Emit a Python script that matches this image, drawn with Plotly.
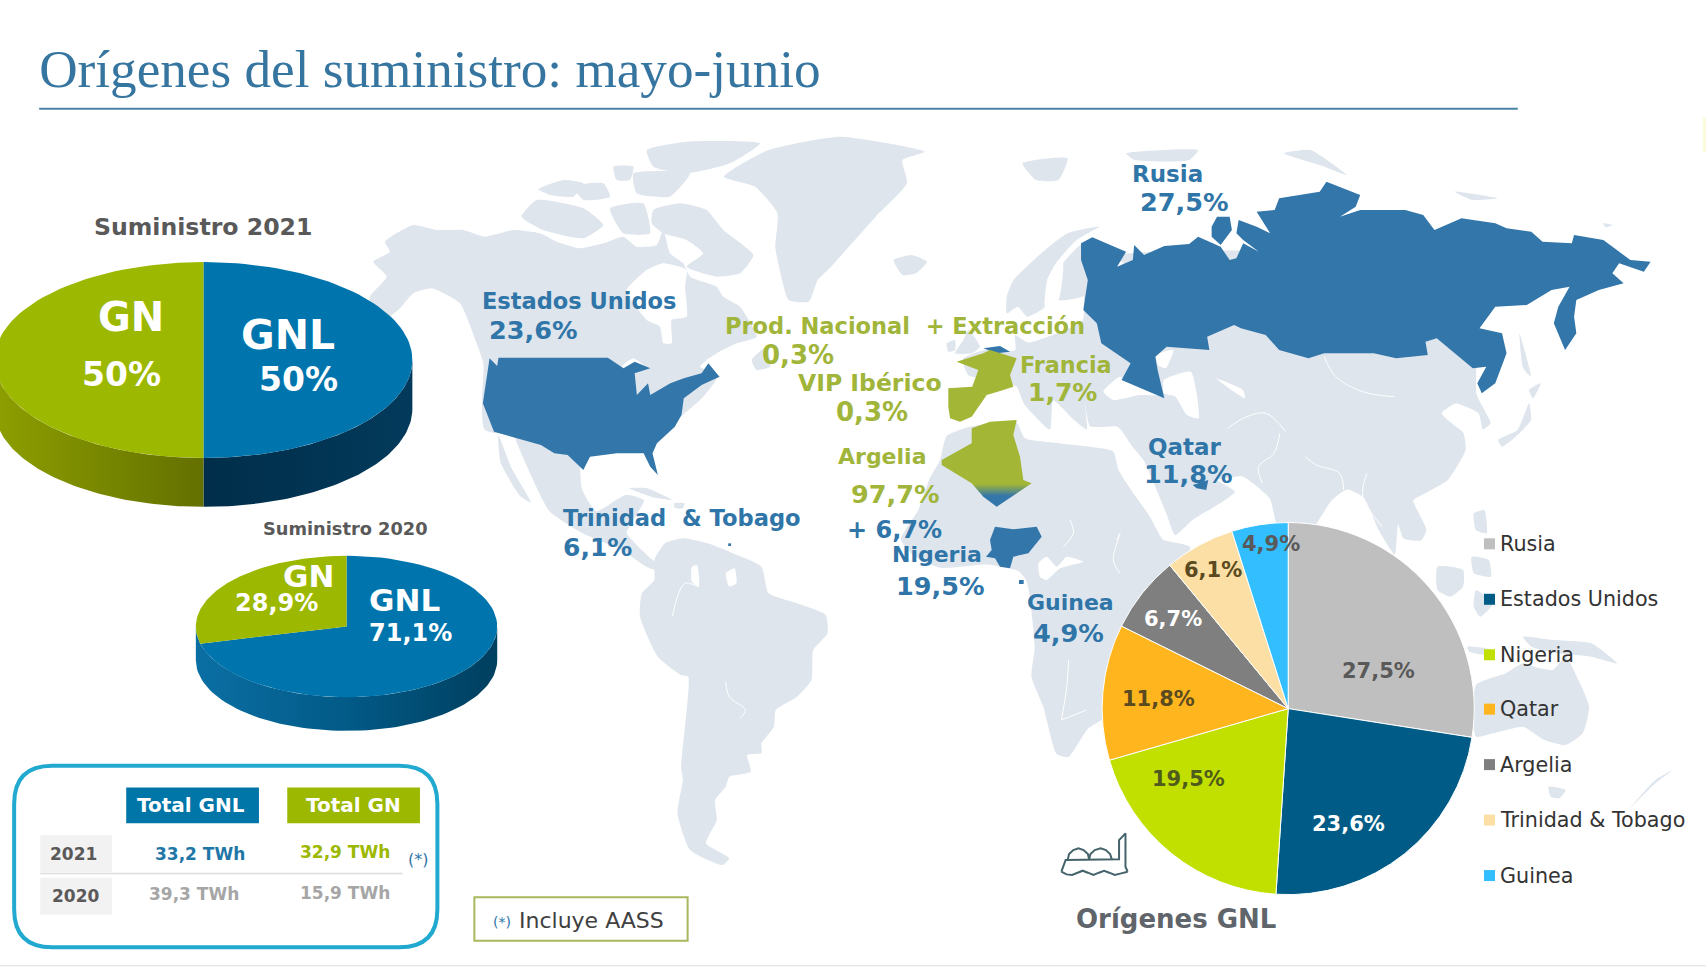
import numpy as np
import plotly.graph_objects as go

# --- values ---
LNG_ORIGINS = ["Rusia", "Estados Unidos", "Nigeria", "Qatar", "Argelia", "Trinidad & Tobago", "Guinea"]
LNG_SHARES = [27.5, 23.6, 19.5, 11.8, 6.7, 6.1, 4.9]
LNG_COLOURS = ["#BFBFBF", "#005C86", "#C1E000", "#FFB61E", "#7F7F7F", "#FBDFA5", "#33BEFF"]
LNG_TEXT_COLOURS = ["#595959", "#FFFFFF", "#4F5B1C", "#5A4A20", "#FFFFFF", "#5A4A20", "#595959"]
LNG_TEXT_XY = [(1267, 617), (1239, 758), (1092, 716), (1065, 643), (1078, 569), (1115, 524), (1168, 500)]

SUPPLY_LABELS = ["GNL", "GN"]
SUPPLY_2021 = [50.0, 50.0]
SUPPLY_2020 = [71.1, 28.9]
SUPPLY_COLOURS = ["#0075AD", "#9DB800"]

TABLE_YEARS = ["2021", "2020"]
TOTAL_GNL_TWH = [33.2, 39.3]
TOTAL_GN_TWH = [32.9, 15.9]

CROP_NA = (370, 130, 3.0, 3.0)
CROP_ATL = (340, 120, 2.24, 3.0)
CROP_RU = (1000, 120, 2.221, 3.0)
CROP_SA = (540, 480, 2.8, 3.0)
CROP_ME = (900, 320, 3.0, 3.0)
CROP_AS = (1100, 300, 2.587, 3.0)
CROP_PIE = (1040, 500, 2.34, 3.0)
CROP_SLIDE = (0, 0, 1 / 1.088, 1 / 1.0876)

LAND = [
    # North America
    (CROP_NA, [(10, 395), (60, 365), (45, 335), (130, 285), (200, 300), (280, 300), (345, 320), (430, 300), (510, 310), (560, 335), (630, 355), (700, 340), (760, 320), (800, 350), (860, 345), (880, 300), (900, 370), (940, 400), (960, 440), (1040, 470), (1060, 500), (1110, 530), (1160, 620), (1100, 640), (1040, 670), (990, 710), (1045, 735), (1000, 800), (900, 880), (700, 900), (345, 900), (340, 700), (320, 640), (270, 520), (185, 475), (130, 490), (85, 540), (10, 590), (0, 500), (50, 440)]),
    (CROP_NA, [(850, 240), (930, 220), (1010, 240), (1060, 300), (1150, 375), (1110, 430), (1040, 440), (950, 410), (1000, 370), (950, 330), (880, 310), (845, 280)]),
    (CROP_NA, [(455, 260), (500, 210), (640, 235), (700, 285), (640, 325), (520, 300)]),
    (CROP_NA, [(505, 178), (580, 150), (640, 160), (610, 200), (540, 195)]),
    (CROP_NA, [(730, 110), (790, 110), (780, 150), (740, 150)]),
    (CROP_NA, [(830, 60), (950, 35), (1170, 40), (1080, 100), (950, 130), (850, 110)]),
    (CROP_NA, [(790, 130), (960, 130), (900, 200), (800, 190)]),
    (CROP_NA, [(720, 235), (820, 220), (840, 310), (760, 310)]),
    (CROP_NA, [(610, 170), (700, 160), (720, 200), (640, 210)]),
    (CROP_NA, [(1145, 690), (1190, 650), (1200, 710), (1160, 720)]),
    # Greenland and Iceland
    (CROP_ATL, [(860, 170), (960, 90), (1120, 50), (1310, 95), (1260, 120), (1270, 190), (1200, 290), (1100, 440), (1070, 480), (1050, 545), (1005, 540), (985, 450), (975, 380), (980, 280), (930, 200)]),
    (CROP_ATL, [(1240, 420), (1280, 405), (1315, 425), (1290, 460), (1260, 465)]),
    # Mexico, Central America, Caribbean
    (CROP_SLIDE, [(472, 395), (530, 412), (535, 450), (548, 470), (575, 455), (592, 460), (582, 478), (576, 490), (600, 515), (616, 527), (596, 522), (570, 505), (535, 490), (505, 470), (485, 430)]),
    (CROP_SLIDE, [(458, 400), (470, 430), (488, 462), (478, 456), (460, 425)]),
    (CROP_SA, [(250, 25), (300, 25), (370, 60), (310, 50)]),
    (CROP_SA, [(375, 70), (405, 70), (400, 85), (378, 84)]),
    # South America
    (CROP_SA, [(320, 240), (350, 190), (400, 175), (470, 190), (540, 220), (620, 260), (640, 340), (720, 370), (800, 405), (805, 460), (765, 510), (760, 600), (720, 650), (660, 690), (655, 740), (620, 790), (620, 820), (580, 825), (590, 875), (530, 890), (520, 920), (490, 960), (495, 1020), (465, 1090), (530, 1135), (510, 1155), (420, 1110), (385, 1000), (400, 900), (395, 860), (415, 590), (395, 585), (330, 530), (280, 410), (285, 340), (320, 300)]),
    # Africa
    (CROP_SLIDE, [(864, 423), (870, 401), (893, 392), (934, 388), (942, 403), (977, 408), (1023, 415), (1028, 432), (1042, 454), (1057, 475), (1069, 496), (1094, 503), (1060, 555), (1040, 590), (1030, 620), (1030, 650), (1000, 670), (982, 696), (971, 693), (959, 650), (948, 622), (951, 595), (946, 545), (943, 533), (936, 525), (907, 519), (864, 522), (841, 512), (828, 496), (844, 469), (854, 441)]),
    # Eurasia
    (CROP_SLIDE, [(1000, 240), (1350, 250), (1357, 362), (1361, 371), (1370, 389), (1363, 395), (1359, 380), (1338, 371), (1325, 380), (1334, 389), (1345, 398), (1347, 414), (1331, 441), (1309, 454), (1299, 460), (1311, 487), (1306, 497), (1290, 495), (1285, 482), (1282, 510), (1267, 487), (1253, 457), (1238, 450), (1224, 460), (1203, 490), (1176, 490), (1167, 458), (1142, 438), (1125, 440), (1118, 441), (1135, 452), (1121, 463), (1096, 478), (1080, 492), (1072, 472), (1051, 423), (1041, 411), (1030, 395), (1026, 392), (1002, 392), (997, 371), (999, 395), (987, 386), (968, 368), (965, 395), (941, 371), (934, 355), (915, 350), (890, 345), (885, 330), (904, 322), (933, 322), (933, 308), (945, 315), (975, 305), (995, 295)]),
    # Great Britain, Ireland
    (CROP_ME, [(165, 100), (190, 60), (205, 30), (240, 80), (215, 100)]),
    (CROP_ME, [(140, 70), (165, 60), (165, 90), (145, 95)]),
    # Scandinavia, Arctic islands
    (CROP_RU, [(15, 530), (30, 480), (100, 390), (150, 340), (220, 320), (170, 360), (130, 420), (105, 480), (100, 560), (60, 590), (40, 560), (15, 580)]),
    (CROP_RU, [(140, 430), (185, 370), (200, 520), (130, 540), (130, 480)]),
    (CROP_RU, [(50, 130), (150, 115), (130, 180), (80, 180)]),
    (CROP_RU, [(280, 100), (440, 90), (420, 120), (300, 120)]),
    (CROP_RU, [(630, 100), (690, 90), (770, 165), (720, 140)]),
    (CROP_RU, [(1010, 215), (1105, 235), (1050, 240)]),
    (CROP_RU, [(1340, 310), (1360, 315), (1345, 322)]),
    # Japan, Taiwan, Philippines and the south-east
    (CROP_AS, [(1030, 420), (1080, 390), (1110, 310), (1115, 360), (1080, 405), (1040, 440)]),
    (CROP_AS, [(1110, 270), (1140, 250), (1120, 295)]),
    (CROP_AS, [(1085, 100), (1115, 230), (1095, 205)]),
    (CROP_PIE, [(1015, 40), (1040, 30), (1045, 100), (1020, 90)]),
    (CROP_PIE, [(1010, 170), (1050, 180), (1055, 230), (1015, 220)]),
    (CROP_PIE, [(930, 200), (990, 210), (990, 260), (960, 290), (930, 270)]),
    (CROP_PIE, [(1020, 270), (1060, 310), (1030, 350), (1015, 320)]),
    (CROP_PIE, [(1000, 440), (1060, 450), (1060, 465), (1005, 455)]),
    (CROP_PIE, [(1130, 410), (1200, 420), (1290, 430), (1350, 490), (1290, 470), (1210, 460), (1150, 440)]),
    # Australia, Tasmania, New Zealand
    (CROP_PIE, [(1020, 555), (1090, 520), (1130, 490), (1170, 505), (1200, 510), (1230, 470), (1260, 540), (1285, 620), (1270, 700), (1230, 735), (1180, 720), (1130, 680), (1060, 700), (1020, 710)]),
    (CROP_PIE, [(1190, 860), (1230, 870), (1215, 895), (1195, 890)]),
    (CROP_PIE, [(1380, 925), (1440, 850), (1480, 810), (1440, 840), (1400, 895)]),
]

WATER = [
    (CROP_NA, [(770, 480), (830, 420), (880, 400), (950, 420), (945, 470), (950, 560), (905, 570), (905, 640), (880, 640), (870, 590), (830, 570), (790, 520)]),
    (CROP_NA, [(1010, 690), (1060, 670), (1130, 690), (1100, 720), (1050, 715)]),
    (CROP_NA, [(755, 710), (790, 685), (830, 715), (790, 720)]),
    (CROP_ME, [(610, 215), (660, 170), (690, 190), (780, 225), (720, 225), (640, 240)]),
    (CROP_ME, [(415, 730), (440, 710), (470, 740), (500, 710), (550, 725), (480, 745), (440, 780), (420, 770)]),
    (CROP_AS, [(165, 240), (235, 215), (250, 280), (255, 355), (225, 345), (195, 290), (165, 280)]),
    (CROP_AS, [(145, 165), (190, 150), (170, 205), (150, 195)]),
    (CROP_AS, [(300, 235), (370, 270), (375, 295), (340, 270)]),
    (CROP_RU, [(215, 415), (240, 415), (275, 430), (245, 460)]),
    (CROP_RU, [(105, 480), (130, 420), (140, 430), (130, 540), (100, 560)]),
    (CROP_SA, [(520, 280), (545, 265), (550, 310), (530, 320)]),
    (CROP_SA, [(425, 260), (440, 255), (445, 320), (425, 305)]),
]

BORDERS = [
    (CROP_AS, [(580, 170), (610, 230), (680, 275), (760, 290)]),
    (CROP_AS, [(530, 470), (560, 495), (620, 520), (630, 570)]),
    (CROP_AS, [(465, 400), (450, 460), (410, 500), (420, 550)]),
    (CROP_AS, [(330, 385), (380, 350), (430, 340), (480, 395)]),
    (CROP_AS, [(690, 520), (680, 590), (730, 680)]),
    (CROP_SA, [(370, 410), (405, 310), (440, 320)]),
    (CROP_SA, [(520, 605), (530, 650), (575, 690), (560, 715)]),
    (CROP_SA, [(1480, 540), (1475, 620), (1460, 720)]),
    (CROP_SA, [(1460, 720), (1530, 690)]),
    (CROP_ME, [(650, 660), (660, 640), (640, 720), (660, 760)]),
    (CROP_ME, [(510, 600), (520, 640), (490, 680)]),
]

USA = [(335, 715), (352, 738), (355, 713), (600, 713), (635, 745), (660, 725), (695, 745), (660, 760), (665, 825), (690, 790), (695, 825), (740, 790), (770, 775), (810, 760), (825, 730), (850, 770), (810, 795), (770, 835), (765, 885), (750, 920), (710, 970), (700, 1000), (712, 1065), (695, 1040), (680, 1000), (620, 1000), (560, 1010), (545, 1050), (510, 1005), (480, 1000), (450, 975), (345, 935), (320, 850), (330, 760)]
RUSSIA = [(180, 370), (205, 352), (280, 395), (260, 440), (295, 420), (298, 375), (320, 405), (365, 378), (420, 372), (440, 350), (490, 380), (510, 420), (525, 415), (540, 370), (575, 395), (540, 360), (525, 340), (530, 300), (570, 320), (600, 340), (570, 275), (610, 270), (620, 235), (710, 215), (725, 185), (800, 225), (790, 260), (755, 290), (800, 270), (900, 270), (940, 285), (965, 330), (1025, 295), (1100, 310), (1125, 325), (1180, 335), (1205, 365), (1270, 370), (1275, 345), (1340, 360), (1400, 420), (1445, 425), (1430, 455), (1395, 440), (1375, 430), (1360, 460), (1385, 490), (1330, 510), (1280, 540), (1275, 590), (1280, 640), (1255, 690), (1230, 610), (1240, 560), (1265, 500), (1225, 510), (1170, 555), (1100, 560), (1065, 625), (1115, 640), (1125, 700), (1100, 790), (1070, 820), (1060, 790), (1080, 740), (1050, 745), (1000, 690), (970, 655), (945, 665), (950, 705), (880, 715), (830, 700), (770, 700), (720, 700), (685, 715), (620, 690), (590, 645), (535, 625), (520, 615), (460, 650), (465, 690), (370, 680), (345, 710), (350, 750), (365, 835), (340, 820), (270, 780), (290, 730), (225, 670), (215, 610), (185, 570), (195, 480), (180, 420)]
NOVAYA_ZEMLYA = [(470, 320), (482, 290), (510, 290), (515, 330), (490, 375), (470, 350)]
NIGERIA = [(285, 620), (340, 628), (410, 620), (425, 650), (385, 700), (340, 710), (330, 745), (300, 740), (285, 715), (258, 710), (275, 690), (270, 660)]
GUINEA = [(357, 780), (371, 780), (371, 792), (357, 792)]
BELGIUM = [(250, 85), (300, 78), (330, 95), (290, 100)]
TRINIDAD = [(527, 190), (535, 190), (535, 198), (527, 198)]
QATAR = [(240, 555), (280, 540), (275, 570), (250, 565)]
FRANCE = [(170, 125), (200, 115), (250, 100), (270, 90), (350, 115), (330, 165), (340, 200), (310, 210), (260, 225), (215, 205), (235, 150)]
SPAIN = [(145, 205), (215, 200), (260, 225), (215, 290), (180, 305), (150, 295), (145, 260)]
ALGERIA = [(215, 325), (270, 305), (350, 300), (340, 345), (360, 410), (370, 480), (395, 490), (290, 560), (250, 530), (215, 490), (125, 435), (125, 420), (215, 370)]

SHIP_LINES = [
    [(50, 1115), (60, 1080), (185, 1078), (185, 1020), (200, 1000), (200, 1100), (205, 1115)],
    [(65, 1078), (68, 1062), (78, 1050), (90, 1045), (102, 1050), (112, 1062), (115, 1078)],
    [(115, 1078), (118, 1062), (128, 1050), (142, 1045), (154, 1050), (164, 1062), (168, 1078)],
    [(50, 1115), (62, 1123), (75, 1125), (88, 1118), (100, 1112), (112, 1118), (125, 1125), (138, 1118), (150, 1112), (162, 1118), (175, 1125), (190, 1120), (205, 1115)],
]

BLUE_TEXT = "#2F75A8"
GREEN_TEXT = "#A0B53A"
MAP_BLUE = "#3376AA"
MAP_GREEN = "#A3B635"
MAP_GREY = "#DEE5ED"
FONT = "DejaVu Sans"

# text, centre x, centre y, size, colour
MAP_LABELS = [
    ("Rusia", 1073, 160, 23, BLUE_TEXT), ("27,5%", 1088, 186, 25.5, BLUE_TEXT),
    ("Estados Unidos", 532, 277, 22.5, BLUE_TEXT), ("23,6%", 490, 303, 25.5, BLUE_TEXT),
    ("Prod. Nacional  + Extracción", 832, 300, 22.5, GREEN_TEXT), ("0,3%", 733, 326, 26, GREEN_TEXT),
    ("VIP Ibérico", 800, 352, 23.5, GREEN_TEXT), ("0,3%", 801, 379, 26, GREEN_TEXT),
    ("Francia", 980, 336, 22.3, GREEN_TEXT), ("1,7%", 977, 361, 25, GREEN_TEXT),
    ("Argelia", 811, 420, 22, GREEN_TEXT), ("97,7%", 823, 454, 25.5, GREEN_TEXT),
    ("+ 6,7%", 822, 487, 24, BLUE_TEXT),
    ("Trinidad  & Tobago", 627, 476, 22.6, BLUE_TEXT), ("6,1%", 549, 503, 25, BLUE_TEXT),
    ("Nigeria", 861, 510, 22, BLUE_TEXT), ("19,5%", 864, 539, 25.5, BLUE_TEXT),
    ("Guinea", 984, 554, 22, BLUE_TEXT), ("4,9%", 982, 582, 25.5, BLUE_TEXT),
    ("Qatar", 1089, 411, 23, BLUE_TEXT), ("11,8%", 1092, 436, 25.5, BLUE_TEXT),
]
PIE_LABELS = [
    ("Suministro 2021", 187, 209, 23.6, "#595959"), ("Suministro 2020", 318, 486, 17.8, "#595959"),
    ("GN", 120, 291, 40, "#FFFFFF"), ("50%", 112, 344, 33, "#FFFFFF"),
    ("GNL", 265, 308, 41, "#FFFFFF"), ("50%", 274, 349, 33, "#FFFFFF"),
    ("GN", 284, 530, 31, "#FFFFFF"), ("28,9%", 254, 554, 24, "#FFFFFF"),
    ("GNL", 372, 552, 31, "#FFFFFF"), ("71,1%", 377, 582, 24, "#FFFFFF"),
    ("Orígenes GNL", 1081, 845, 26, "#60656B"),
]


def from_crop(crop, points):
    x0, y0, fx, fy = crop
    return [(x0 + px / fx) / 1.088 for px, _ in points], [(y0 + py / fy) / 1.0876 for _, py in points]


def joined(polygons):
    xs, ys = [], []
    for crop, pts in polygons:
        px, py = from_crop(crop, pts)
        xs += px + [px[0], None]
        ys += py + [py[0], None]
    return xs, ys


def add_fill(fig, xs, ys, colour, smooth=False, **kwargs):
    line = dict(width=0, shape="spline", smoothing=0.5) if smooth else dict(width=0)
    fig.add_trace(go.Scatter(x=xs, y=ys, mode="lines", line=line, fill="toself",
                             fillcolor=colour, hoverinfo="skip", showlegend=False, **kwargs))


def add_polygon(fig, crop, pts, colour, **kwargs):
    xs, ys = from_crop(crop, pts + pts[:1])
    add_fill(fig, xs, ys, colour, **kwargs)


def ellipse(cx, cy, rx, ry, t0, t1, n=80):
    # t in degrees, clockwise from the top
    t = np.radians(np.linspace(t0, t1, n))
    return cx + rx * np.sin(t), cy - ry * np.cos(t)


def add_wall(fig, cx, cy, rx, ry, depth, t0, t1, scale):
    x, y = ellipse(cx, cy, rx, ry, t0, t1)
    xs = list(x) + list(x[::-1])
    ys = list(y) + list((y + depth)[::-1])
    add_fill(fig, xs + xs[:1], ys + ys[:1], "rgba(0,0,0,0)",
             fillgradient=dict(type="horizontal", colorscale=scale, start=min(x), stop=max(x)))


def add_tilted_pie(fig, values, cx, cy, rx, ry):
    total = sum(values)
    start = 0.0
    for value, colour in zip(values, SUPPLY_COLOURS):
        stop = start + 360 * value / total
        x, y = ellipse(cx, cy, rx, ry, start, stop)
        add_fill(fig, [cx] + list(x) + [cx], [cy] + list(y) + [cy], colour)
        start = stop


def text(fig, label, x, y, size, colour, bold=True, anchor="center"):
    fig.add_annotation(x=x, y=y, text=f"<b>{label}</b>" if bold else label, showarrow=False,
                       xanchor=anchor, yanchor="middle", xref="x", yref="y",
                       font=dict(family=FONT, size=size, color=colour))


def pct(value):
    return f"{value:.1f}%".replace(".", ",")


def twh(value):
    return f"{value:.1f} TWh".replace(".", ",")


fig = go.Figure()

# world map
xs, ys = joined(LAND)
add_fill(fig, xs, ys, MAP_GREY, smooth=True)
xs, ys = joined(WATER)
add_fill(fig, xs, ys, "#FFFFFF", smooth=True)
for crop, pts in BORDERS:
    xs, ys = from_crop(crop, pts)
    fig.add_trace(go.Scatter(x=xs, y=ys, mode="lines", line=dict(color="#FFFFFF", width=1, shape="spline"),
                             hoverinfo="skip", showlegend=False))

add_polygon(fig, CROP_ATL, USA, MAP_BLUE)
add_polygon(fig, CROP_RU, RUSSIA, MAP_BLUE)
add_polygon(fig, CROP_RU, NOVAYA_ZEMLYA, MAP_BLUE)
add_polygon(fig, CROP_ME, NIGERIA, MAP_BLUE)
add_polygon(fig, CROP_ME, GUINEA, MAP_BLUE)
add_polygon(fig, CROP_ME, BELGIUM, MAP_BLUE)
add_polygon(fig, CROP_SA, TRINIDAD, MAP_BLUE)
add_polygon(fig, CROP_AS, QATAR, MAP_BLUE)
add_polygon(fig, CROP_ME, FRANCE, MAP_GREEN)
add_polygon(fig, CROP_ME, SPAIN, MAP_GREEN)
add_polygon(fig, CROP_ME, ALGERIA, "rgba(0,0,0,0)",
            fillgradient=dict(type="vertical", colorscale=[[0, MAP_GREEN], [1, MAP_BLUE]], start=445, stop=456))

# 2021 supply
cx, cy, rx, ry, depth = 187, 331, 192, 90, 45
split = 360 * SUPPLY_2021[0] / sum(SUPPLY_2021)
add_wall(fig, cx, cy, rx, ry, depth, 90, split, [[0, "#002E4A"], [1, "#033A5B"]])
add_wall(fig, cx, cy, rx, ry, depth, split, 270, [[0, "#8D9F00"], [1, "#647000"]])
add_tilted_pie(fig, SUPPLY_2021, cx, cy, rx, ry)

# 2020 supply
cx, cy, rx, ry, depth = 318.5, 576, 138.5, 65, 31
add_wall(fig, cx, cy, rx, ry, depth, 90, 270, [[0, "#0B6FA4"], [0.5, "#025A87"], [1, "#003F5F"]])
add_tilted_pie(fig, SUPPLY_2020, cx, cy, rx, ry)

# LNG origins
fig.add_trace(go.Pie(labels=LNG_ORIGINS, values=LNG_SHARES, sort=False, direction="clockwise", rotation=0,
                     marker=dict(colors=LNG_COLOURS, line=dict(color="#FFFFFF", width=1)),
                     textinfo="none", hoverinfo="skip", showlegend=False,
                     domain=dict(x=[1013 / 1568, 1355 / 1568], y=[1 - 823 / 890, 1 - 480 / 890])))
for share, colour, (x, y) in zip(LNG_SHARES, LNG_TEXT_COLOURS, LNG_TEXT_XY):
    text(fig, pct(share), x, y, 21, colour)

# legend of the LNG pie
legend_y = [500, 551, 602, 652, 703, 754, 805]
fig.add_trace(go.Scatter(x=[1369] * len(LNG_ORIGINS), y=legend_y, mode="markers", hoverinfo="skip", showlegend=False,
                         marker=dict(symbol="square", size=11, color=LNG_COLOURS)))
for name, y in zip(LNG_ORIGINS, legend_y):
    text(fig, name, 1377, y, 20.7, "#333333", bold=False, anchor="left")

# LNG terminal pictogram
for line in SHIP_LINES:
    xs, ys = from_crop(CROP_PIE, line)
    fig.add_trace(go.Scatter(x=xs, y=ys, mode="lines", line=dict(color="#44636B", width=2),
                             hoverinfo="skip", showlegend=False))

for row in MAP_LABELS + PIE_LABELS:
    text(fig, *row)

# table
shapes = [
    dict(type="line", x0=36, x1=1395, y0=100, y1=100, line=dict(color="#4A82A6", width=2)),
    dict(type="line", x0=0, x1=1568, y0=888, y1=888, line=dict(color="#E8E8E8", width=1.5)),
    dict(type="path", path="M 48 704 L 367 704 Q 402 704 402 739 L 402 836 Q 402 871 367 871 L 48 871 Q 13 871 13 836 L 13 739 Q 13 704 48 704 Z",
         line=dict(color="#22A9CF", width=4)),
    dict(type="rect", x0=116, x1=238, y0=724, y1=757, fillcolor="#0075A8", line=dict(width=0)),
    dict(type="rect", x0=264, x1=386, y0=724, y1=757, fillcolor="#9DB800", line=dict(width=0)),
    dict(type="rect", x0=37, x1=103, y0=768, y1=802, fillcolor="#F2F2F2", line=dict(width=0)),
    dict(type="rect", x0=37, x1=103, y0=807, y1=841, fillcolor="#F2F2F2", line=dict(width=0)),
    dict(type="line", x0=37, x1=370, y0=803, y1=803, line=dict(color="#DDDDDD", width=1.5)),
    dict(type="rect", x0=436, x1=632, y0=825, y1=865, line=dict(color="#A7B95C", width=2)),
    dict(type="rect", x0=1565, x1=1568, y0=108, y1=140, fillcolor="#FBFBE0", line=dict(width=0)),
]
text(fig, "Total GNL", 176, 740, 20, "#FFFFFF")
text(fig, "Total GN", 325, 740, 20, "#FFFFFF")
text(fig, TABLE_YEARS[0], 68, 785, 17, "#595959")
text(fig, TABLE_YEARS[1], 69, 824, 17, "#595959")
text(fig, twh(TOTAL_GNL_TWH[0]), 184, 785, 17, "#1F77A8")
text(fig, twh(TOTAL_GN_TWH[0]), 317, 783, 17, "#9DB800")
text(fig, twh(TOTAL_GNL_TWH[1]), 178, 822, 17, "#A6A6A6")
text(fig, twh(TOTAL_GN_TWH[1]), 317, 821, 17, "#A6A6A6")
text(fig, "(*)", 384, 790, 16, "#2F75A8", bold=False)
text(fig, "(*)", 461, 848, 14, "#2F75A8", bold=False)
text(fig, "Incluye AASS", 475, 846, 22, "#404040", bold=False, anchor="left")

fig.update_layout(
    width=1706, height=968, margin=dict(l=0, r=0, t=0, b=0),
    paper_bgcolor="#FFFFFF", plot_bgcolor="#FFFFFF", shapes=shapes,
    title=dict(text="Orígenes del suministro: mayo-junio", x=36 / 1568, y=1 - 63 / 890, xanchor="left", yanchor="middle",
               font=dict(family="Liberation Serif", size=53.2, color="#35759F")),
    xaxis=dict(range=[0, 1568], visible=False, fixedrange=True),
    yaxis=dict(range=[890, 0], visible=False, fixedrange=True),
)
fig.write_html("out.html", post_script="document.body.style.margin='0';", config=dict(displayModeBar=False))
